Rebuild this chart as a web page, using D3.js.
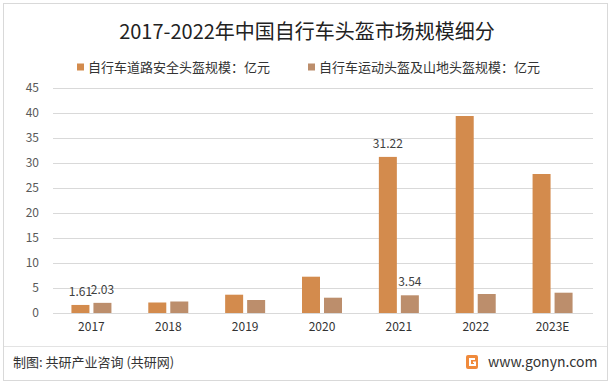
<!DOCTYPE html>
<html><head><meta charset="utf-8">
<script src="https://cdn.jsdelivr.net/npm/d3@7"></script>
<style>
html,body{margin:0;padding:0;background:#fff;}
svg{display:block;font-family:"Microsoft YaHei","Noto Sans CJK SC",sans-serif;}
</style></head>
<body>
<svg id="c" width="614" height="385"></svg>
<script>
const categories = ["2017","2018","2019","2020","2021","2022","2023E"];
const roadSafety = [1.61, 2.1, 3.66, 7.26, 31.22, 39.4, 27.8];
const sportMtb = [2.03, 2.3, 2.6, 3.06, 3.54, 3.8, 4.06];
const seriesNames = ["自行车道路安全头盔规模：亿元","自行车运动头盔及山地头盔规模：亿元"];
const yTicks = [0,5,10,15,20,25,30,35,40,45];
const labelsShown = {"0-0":"1.61","1-0":"2.03","0-4":"31.22","1-4":"3.54"};
const colors = ["#D38B4D","#BC8E6C"];

const svg = d3.select("#c");
const font = '"Microsoft YaHei","Noto Sans CJK SC",sans-serif';

// outer border
svg.append("rect").attr("x",3.5).attr("y",3.5).attr("width",604).attr("height",377)
  .attr("fill","none").attr("stroke","#d9d9d9").attr("stroke-width",1);

// title
svg.append("text").attr("x",307).attr("y",39).attr("text-anchor","middle")
  .attr("font-size",20).attr("fill","#222").text("2017-2022年中国自行车头盔市场规模细分");

// legend
const legX = [77, 308];
seriesNames.forEach((n,i)=>{
  svg.append("rect").attr("x",legX[i]).attr("y",63.5).attr("width",7).attr("height",7).attr("fill",colors[i]);
  svg.append("text").attr("x",legX[i]+11).attr("y",71.5).attr("font-size",13).attr("fill","#333").text(n);
});

const x = d3.scaleBand().domain(categories).range([53,591]);
const y = d3.scaleLinear().domain([0,45]).range([313,88]);

// gridlines
svg.append("g").selectAll("line").data(yTicks).join("line")
  .attr("x1",53).attr("x2",593).attr("y1",d=>Math.round(y(d))+0.5).attr("y2",d=>Math.round(y(d))+0.5)
  .attr("stroke","#d9d9d9").attr("stroke-width",1);

// y axis labels
const yAxis = d3.axisLeft(y).tickValues(yTicks).tickSize(0).tickPadding(0);
const ya = svg.append("g").attr("transform","translate(39,0)").call(yAxis);
ya.select(".domain").remove();
ya.selectAll("text").attr("font-size",12).attr("fill","#595959").attr("font-family",font);

// x axis labels
const xAxis = d3.axisBottom(x).tickSize(0).tickPadding(0);
const xa = svg.append("g").attr("transform","translate(0,322)").call(xAxis);
xa.select(".domain").remove();
xa.selectAll("text").attr("font-size",12).attr("fill","#333").attr("font-family",font).attr("dy","0.75em");

// bars
const bw = 18, gap = 4;
const series = [roadSafety, sportMtb];
series.forEach((vals,si)=>{
  svg.append("g").selectAll("rect").data(vals).join("rect")
    .attr("x",(d,i)=>x(categories[i]) + x.bandwidth()/2 + (si===0 ? -(bw+gap/2) : gap/2))
    .attr("y",d=>y(d)).attr("width",bw).attr("height",d=>y(0)-y(d))
    .attr("fill",colors[si]);
  vals.forEach((v,i)=>{
    const key = si+"-"+i;
    if(labelsShown[key]){
      const cx = x(categories[i]) + x.bandwidth()/2 + (si===0 ? -(bw/2+gap/2) : (bw/2+gap/2));
      svg.append("text").attr("x",cx).attr("y",y(v)-9).attr("text-anchor","middle")
        .attr("font-size",12).attr("fill","#404040").text(labelsShown[key]);
    }
  });
});

// footer
svg.append("line").attr("x1",4).attr("x2",607).attr("y1",346.5).attr("y2",346.5).attr("stroke","#e3e3e3");
svg.append("text").attr("x",13).attr("y",367).attr("font-size",13).attr("fill","#333").text("制图: 共研产业咨询 (共研网)");
const lg = svg.append("g").attr("transform","translate(466,355)");
lg.append("rect").attr("width",12).attr("height",14).attr("rx",2).attr("fill","#F08A3C");
lg.append("path").attr("d","M3,3 H9 V5 H5 V9 H8 V8 H7 V6.5 H10 V11 H3 Z").attr("fill","#fff");
svg.append("text").attr("x",488).attr("y",367).attr("font-size",14).attr("fill","#333").text("www.gonyn.com");
</script>
</body></html>
